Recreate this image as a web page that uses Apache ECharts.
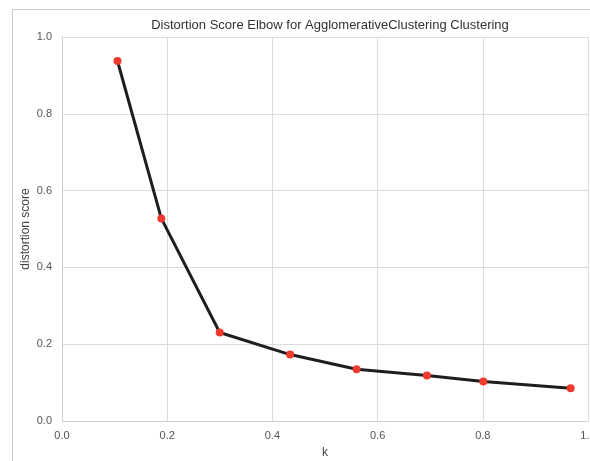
<!DOCTYPE html>
<html>
<head>
<meta charset="utf-8">
<script src="https://cdn.jsdelivr.net/npm/echarts@6/dist/echarts.min.js"></script>
<style>
html,body{margin:0;padding:0;background:#fff;}
#c{width:590px;height:461px;}
</style>
</head>
<body>
<div id="c"></div>
<script>
const kValues = [0.1055, 0.1888, 0.2998, 0.4337, 0.560, 0.6938, 0.801, 0.967];
const scores = [0.9375, 0.5275, 0.2304, 0.173, 0.1347, 0.1183, 0.1027, 0.0852];
const titleText = 'Distortion Score Elbow for AgglomerativeClustering Clustering';
const xName = 'k';
const yName = 'distortion score';

const chart = echarts.init(document.getElementById('c'), null, {renderer: 'canvas'});
const labelStyle = {color: '#555', fontSize: 11, fontFamily: 'Liberation Sans, Arial, sans-serif'};
chart.setOption({
  animation: false,
  backgroundColor: '#fff',
  graphic: [
    {type: 'line', shape: {x1: 12.5, y1: 9.5, x2: 590, y2: 9.5}, style: {stroke: '#c8c8c8', lineWidth: 1}},
    {type: 'line', shape: {x1: 12.5, y1: 9.5, x2: 12.5, y2: 461}, style: {stroke: '#c8c8c8', lineWidth: 1}}
  ],
  title: {
    text: titleText,
    left: 325, top: 14, textAlign: 'center',
    textStyle: {color: '#333', fontSize: 13, fontWeight: 'normal', fontFamily: 'Liberation Sans, Arial, sans-serif'}
  },
  grid: {left: 62, top: 37, right: 2, bottom: 40, containLabel: false, outerBoundsMode: 'none'},
  xAxis: {
    type: 'value', min: 0, max: 1, interval: 0.2,
    name: xName, nameLocation: 'middle', nameGap: 26, nameMoveOverlap: false,
    nameTextStyle: {color: '#444', fontSize: 12, fontFamily: 'Liberation Sans, Arial, sans-serif'},
    axisLine: {show: true, lineStyle: {color: '#d0d0d0', width: 1}},
    axisTick: {show: false},
    axisLabel: Object.assign({margin: 9, formatter: v => v.toFixed(1)}, labelStyle),
    splitLine: {show: true, lineStyle: {color: '#dcdcdc', width: 1}}
  },
  yAxis: {
    type: 'value', min: 0, max: 1, interval: 0.2,
    name: yName, nameLocation: 'middle', nameGap: 30, nameRotate: 90, nameMoveOverlap: false,
    nameTextStyle: {color: '#444', fontSize: 12, fontFamily: 'Liberation Sans, Arial, sans-serif'},
    axisLine: {show: true, lineStyle: {color: '#d0d0d0', width: 1}},
    axisTick: {show: false},
    axisLabel: Object.assign({margin: 10, formatter: v => v.toFixed(1)}, labelStyle),
    splitLine: {show: true, lineStyle: {color: '#dcdcdc', width: 1}}
  },
  series: [{
    type: 'line',
    data: kValues.map((k, i) => [k, scores[i]]),
    symbol: 'circle', symbolSize: 8,
    lineStyle: {color: '#1e1e1e', width: 3},
    itemStyle: {color: '#f03a2e'},
    z: 3
  }]
});
</script>
</body>
</html>
